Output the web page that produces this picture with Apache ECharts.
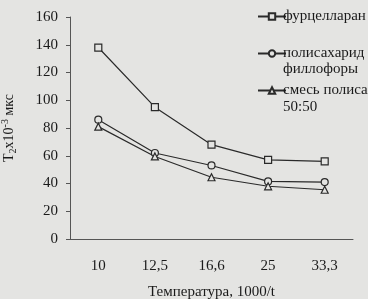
<!DOCTYPE html>
<html style="height: 100%">
<head>
<meta charset="utf-8">
<script src="https://cdn.jsdelivr.net/npm/echarts@6/dist/echarts.min.js"></script>
</head>
<body style="height: 100%; margin: 0; background: #e4e4e2">
<div id="container" style="width: 368px; height: 299px"></div>
<script type="text/javascript">
var categories = ['10', '12,5', '16,6', '25', '33,3'];
var furcellaran = [138, 95, 68, 57, 56];
var phyllophora = [86, 62, 53, 41.5, 41];
var mixture = [81, 59.5, 44.5, 38, 35.5];
var seriesNames = ['фурцелларан', 'полисахарид филлофоры', 'смесь полисахаридов 50:50'];
var legendFirstLines = ['фурцелларан', 'полисахарид', 'смесь полисахаридов'];

var bg = '#e4e4e2';
var ink = '#1a1a1a';
var font = 'Liberation Serif';

var dom = document.getElementById('container');
var myChart = echarts.init(dom);

function makeSeries(name, data, symbol) {
    return {
        name: name,
        type: 'line',
        data: data,
        symbol: symbol,
        symbolSize: 7,
        animation: false,
        lineStyle: { color: '#2a2a2a', width: 1.2 },
        itemStyle: { color: bg, borderColor: '#2a2a2a', borderWidth: 1.2 }
    };
}

var option = {
    backgroundColor: bg,
    textStyle: { fontFamily: font, color: ink },
    grid: { left: 70, right: 15, top: 17, bottom: 60, outerBoundsMode: 'none' },
    legend: {
        orient: 'vertical',
        left: 252,
        top: 4,
        itemWidth: 28,
        itemHeight: 8,
        itemGap: 22,
        data: seriesNames,
        formatter: function (name) {
            return legendFirstLines[seriesNames.indexOf(name)];
        },
        textStyle: { fontFamily: font, fontSize: 15, color: ink, padding: [0, 0, 0, -8] }
    },
    graphic: [
        { type: 'text', left: 283, top: 62, style: { text: 'филлофоры', font: '15px "Liberation Serif"', fill: ink } },
        { type: 'text', left: 283, top: 100, style: { text: '50:50', font: '15px "Liberation Serif"', fill: ink } }
    ],
    xAxis: {
        type: 'category',
        data: categories,
        boundaryGap: true,
        name: 'Температура, 1000/t',
        nameLocation: 'middle',
        nameGap: 46,
        nameTextStyle: { fontFamily: font, fontSize: 15, color: ink },
        axisLine: { lineStyle: { color: '#555', width: 1 } },
        axisTick: { inside: true, length: 5, lineStyle: { color: '#555' } },
        axisLabel: { margin: 20, fontFamily: font, fontSize: 15, color: ink }
    },
    yAxis: {
        type: 'value',
        min: 0,
        max: 160,
        interval: 20,
        name: '{a|T}{s|2}{a|x10}{p|-3}{a| мкс}',
        nameLocation: 'middle',
        nameGap: 52,
        nameTextStyle: {
            rich: {
                a: { fontFamily: font, fontSize: 14, color: ink, lineHeight: 18 },
                s: { fontFamily: font, fontSize: 10, color: ink, verticalAlign: 'bottom', lineHeight: 18 },
                p: { fontFamily: font, fontSize: 10, color: ink, verticalAlign: 'top', lineHeight: 18 }
            }
        },
        splitLine: { show: false },
        axisLine: { show: true, lineStyle: { color: '#555', width: 1 } },
        axisTick: { show: true, length: 4, lineStyle: { color: '#555' } },
        axisLabel: { margin: 12, fontFamily: font, fontSize: 15, color: ink }
    },
    series: [
        makeSeries(seriesNames[0], furcellaran, 'rect'),
        makeSeries(seriesNames[1], phyllophora, 'circle'),
        makeSeries(seriesNames[2], mixture, 'triangle')
    ]
};

myChart.setOption(option);
</script>
</body>
</html>
